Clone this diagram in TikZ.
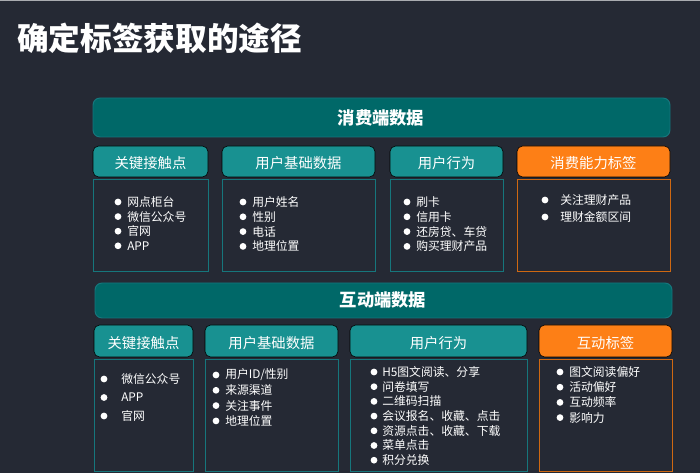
\documentclass[tikz,border=0pt]{standalone}
\usepackage{fontspec}
\setmainfont{Noto Sans CJK SC}
\usetikzlibrary{positioning}
\definecolor{bgdark}{RGB}{37, 41, 52}
\definecolor{bandteal}{RGB}{0, 104, 104}
\definecolor{headteal}{RGB}{24, 145, 145}
\definecolor{lineteal}{RGB}{22, 118, 124}
\definecolor{tagorange}{RGB}{253, 127, 22}
\definecolor{topgray}{RGB}{170, 172, 176}

\tikzset{
  band/.style={draw=lineteal, fill=bandteal, rounded corners=5pt, line width=0.7pt},
  bandtext/.style={text=white, font=\fontsize{12.3}{14}\selectfont\bfseries},
  headbox/.style={fill=headteal, rounded corners=4pt},
  tagbox/.style={fill=tagorange, rounded corners=4pt},
  headtext/.style={text=white, font=\fontsize{10.2}{12}\selectfont},
  listbox/.style={draw=lineteal, line width=0.7pt},
  taglist/.style={draw=tagorange!82!black, line width=0.7pt},
  item/.style={text=white, font=\fontsize{8.4}{10}\selectfont, anchor=west, inner sep=0pt},
}

% bullet x, text x, first y, step, name, items
\newcommand{\bulletrows}[6]{%
  \foreach \t [count=\i from 0] in {#6}{%
    \fill[white] (#1,#3+\i*#4) circle (2.4pt);
    \node[item] (#5\i) at (#2,#3+\i*#4) {\t};
  }}

\begin{document}
\begin{tikzpicture}[x=0.025cm, y=-0.025cm]
  % background
  \fill[bgdark] (0,0) rectangle (700,473);
  \useasboundingbox (0,0) rectangle (700,473);
  \fill[topgray] (0,0) rectangle (700,1.2);
  \node[text=white, font=\fontsize{22.5}{26}\selectfont\bfseries, anchor=west, inner sep=0pt] (title) at (17,38) {确定标签获取的途径};

  % consumer side
  \draw[band] (93,98) rectangle (670,137);
  \node[bandtext] (xfband) at (381,118) {消费端数据};
  \draw[headbox] (93,146) rectangle (208,177);
  \node[headtext] (xfh1) at (150.5,163.5) {关键接触点};
  \draw[headbox] (222,146) rectangle (375,177);
  \node[headtext] (xfh2) at (298.5,163.5) {用户基础数据};
  \draw[headbox] (390,146) rectangle (503,177);
  \node[headtext] (xfh3) at (446.5,163.5) {用户行为};
  \draw[tagbox] (517,146) rectangle (670,177);
  \node[headtext] (xfh4) at (593.5,163.5) {消费能力标签};

  \draw[listbox] (93,179) rectangle (208,271);
  \draw[listbox] (222,179) rectangle (375,271);
  \draw[listbox] (390,179) rectangle (503,271);
  \draw[taglist] (517,179) rectangle (670,271);
  \bulletrows{118}{127}{202}{14.6}{xfa}{网点柜台,微信公众号,官网,APP}
  \bulletrows{243}{252}{202}{14.8}{xfb}{用户姓名,性别,电话,地理位置}
  \bulletrows{407}{416}{202}{14.8}{xfc}{刷卡,信用卡,还房贷、车贷,购买理财产品}
  \bulletrows{545}{560}{200}{17}{xfd}{关注理财产品,理财金额区间}

  % interaction side
  \draw[band] (95,283) rectangle (672,318);
  \node[bandtext] (hdband) at (383,300) {互动端数据};
  \draw[headbox] (94,325) rectangle (193,357);
  \node[headtext] (hdh1) at (143.5,343.5) {关键接触点};
  \draw[headbox] (205,325) rectangle (338,357);
  \node[headtext] (hdh2) at (271.5,343.5) {用户基础数据};
  \draw[headbox] (350,325) rectangle (527,357);
  \node[headtext] (hdh3) at (438.5,343.5) {用户行为};
  \draw[tagbox] (539,325) rectangle (672,357);
  \node[headtext] (hdh4) at (605.5,343.5) {互动标签};

  \draw[listbox] (94,359) rectangle (193,471);
  \draw[listbox] (205,359) rectangle (338,471);
  \draw[listbox] (350,359) rectangle (527,471);
  \draw[taglist] (539,359) rectangle (672,471);
  \bulletrows{104}{121}{379}{18.5}{hda}{微信公众号,APP,官网}
  \bulletrows{216}{225}{375}{15.3}{hdb}{用户ID/性别,来源渠道,关注事件,地理位置}
  \bulletrows{374}{382}{372}{14.7}{hdc}{H5图文阅读、分享,问卷填写,二维码扫描,会议报名、收藏、点击,资源点击、收藏、下载,菜单点击,积分兑换}
  \bulletrows{560}{569}{372}{15.2}{hdd}{图文阅读偏好,活动偏好,互动频率,影响力}
\end{tikzpicture}
\end{document}
